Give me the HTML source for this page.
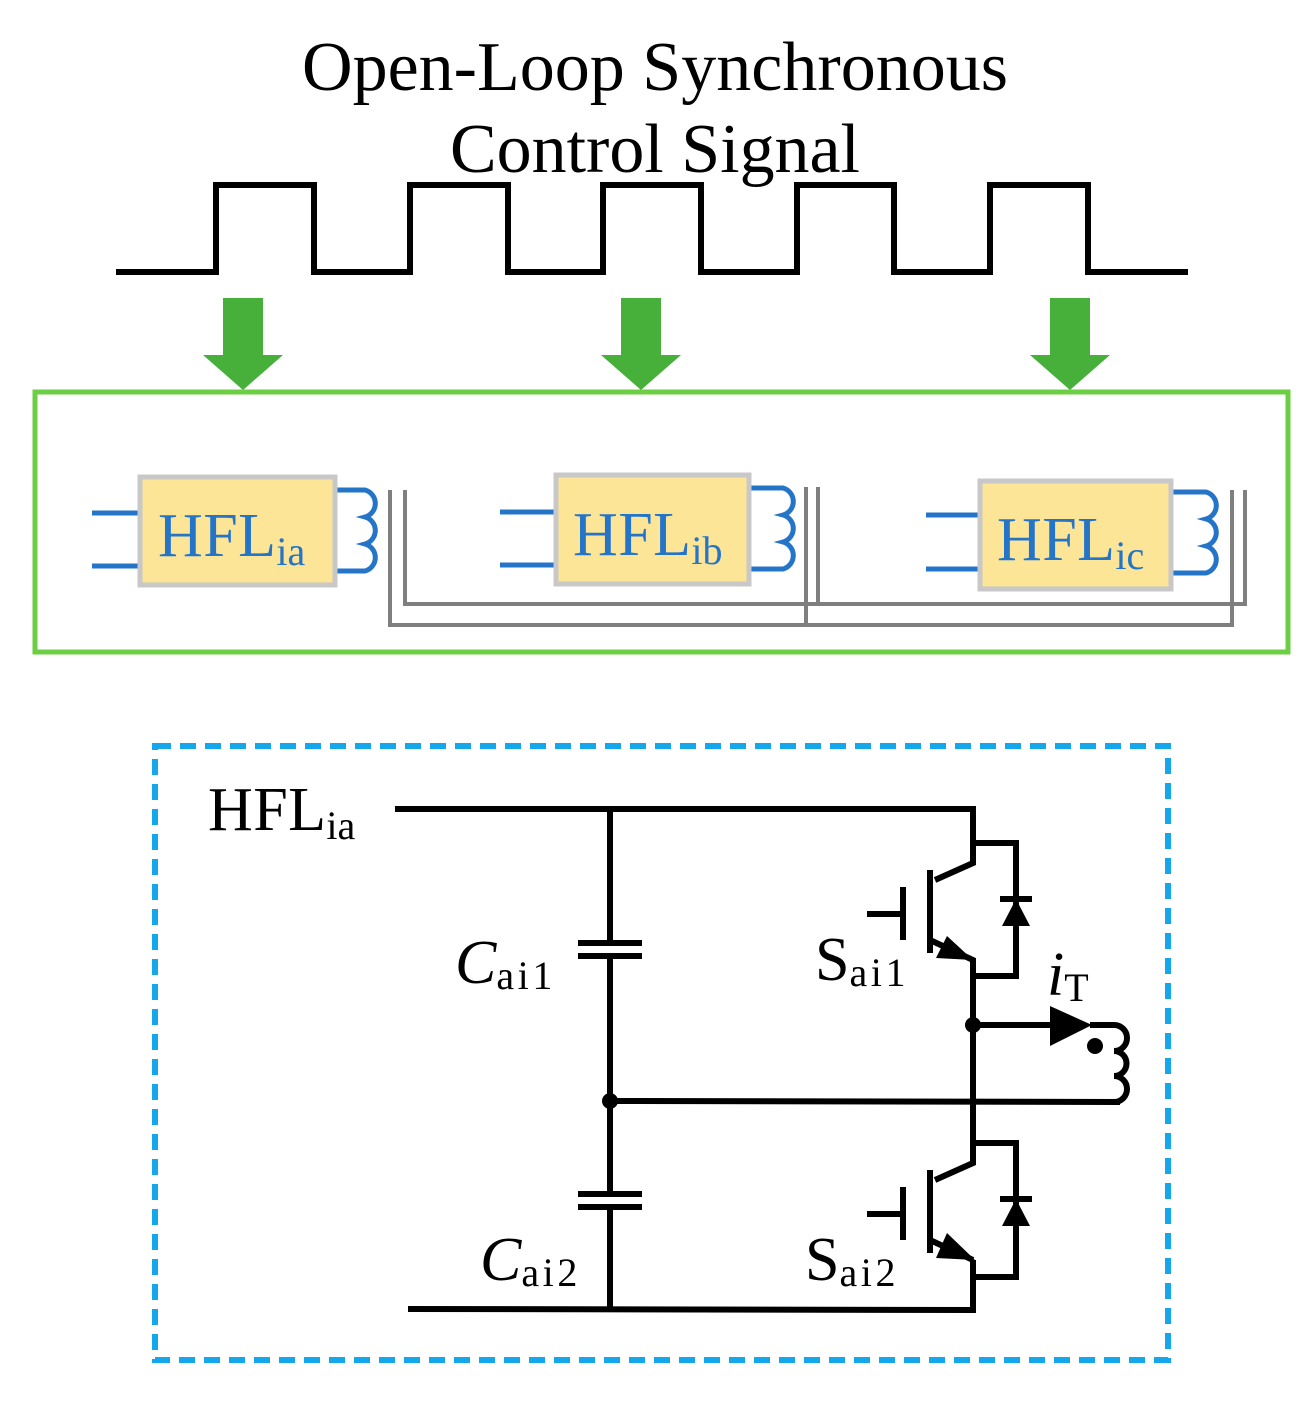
<!DOCTYPE html>
<html><head><meta charset="utf-8"><style>body{margin:0;background:#fff}svg{display:block}</style></head>
<body>
<svg width="1316" height="1403" viewBox="0 0 1316 1403" xmlns="http://www.w3.org/2000/svg" font-family="Liberation Serif, serif">
<text x="302" y="90" font-size="70" textLength="706" lengthAdjust="spacingAndGlyphs">Open-Loop Synchronous</text>
<text x="450" y="172" font-size="70" textLength="410" lengthAdjust="spacingAndGlyphs">Control Signal</text>
<polyline fill="none" stroke="#000" stroke-width="6" points="116,272 216,272 216,185 314,185 314,272 410,272 410,185 508,185 508,272 603,272 603,185 701,185 701,272 797,272 797,185 894,185 894,272 990,272 990,185 1088,185 1088,272 1188,272"/>
<g fill="#46b03a">
<polygon points="223,298 263,298 263,355 283,355 243,390 203,355 223,355"/>
<polygon points="621,298 661,298 661,355 681,355 641,390 601,355 621,355"/>
<polygon points="1050,298 1090,298 1090,355 1110,355 1070,390 1030,355 1050,355"/>
</g>
<rect x="35" y="392" width="1253" height="260" fill="none" stroke="#6ccf43" stroke-width="5"/>
<g stroke="#7f7f7f" stroke-width="4" fill="none">
<polyline points="390,490 390,625 1232,625 1232,490"/>
<polyline points="405,490 405,604 1245,604 1245,490"/>
<line x1="806" y1="487" x2="806" y2="625"/>
<line x1="818" y1="487" x2="818" y2="604"/>
</g>
<g stroke="#2474c8" stroke-width="5" fill="none">
<line x1="92" y1="513" x2="140" y2="513"/><line x1="92" y1="566" x2="140" y2="566"/>
<path d="M333,490 h32 a14,14 0 0 1 0,27 a14,14 0 0 1 0,27 a14,14 0 0 1 0,27 h-32"/>
<line x1="500" y1="512" x2="556" y2="512"/><line x1="500" y1="565" x2="556" y2="565"/>
<path d="M749,488 h34 a14,14 0 0 1 0,27 a14,14 0 0 1 0,27 a14,14 0 0 1 0,27 h-34"/>
<line x1="926" y1="515" x2="980" y2="515"/><line x1="926" y1="569" x2="980" y2="569"/>
<path d="M1172,492 h34 a14,14 0 0 1 0,27 a14,14 0 0 1 0,27 a14,14 0 0 1 0,27 h-34"/>
</g>
<g fill="#fde597" stroke="#c8c8c8" stroke-width="5">
<rect x="140" y="477" width="195" height="108"/>
<rect x="556" y="475" width="193" height="109"/>
<rect x="980" y="481" width="191" height="108"/>
</g>
<g fill="#2474c8" font-size="62">
<text x="158" y="556"><tspan textLength="118" lengthAdjust="spacing">HFL</tspan><tspan font-size="40" dy="9">ia</tspan></text>
<text x="573" y="555"><tspan textLength="118" lengthAdjust="spacing">HFL</tspan><tspan font-size="40" dy="9">ib</tspan></text>
<text x="997" y="560"><tspan textLength="118" lengthAdjust="spacing">HFL</tspan><tspan font-size="40" dy="9">ic</tspan></text>
</g>
<rect x="155" y="746" width="1013" height="614" fill="none" stroke="#14a7eb" stroke-width="6" stroke-dasharray="16,9"/>
<text x="208" y="830" font-size="62"><tspan textLength="118" lengthAdjust="spacing">HFL</tspan><tspan font-size="40" dy="9">ia</tspan></text>
<g stroke="#000" stroke-width="6" fill="none">
<polyline points="395,809 973,809 973,863 935,880"/>
<line x1="610" y1="809" x2="610" y2="943"/>
<line x1="610" y1="956" x2="610" y2="1194"/>
<line x1="610" y1="1207" x2="610" y2="1310"/>
<line x1="578" y1="943" x2="642" y2="943"/><line x1="578" y1="956" x2="642" y2="956"/>
<line x1="578" y1="1194" x2="642" y2="1194"/><line x1="578" y1="1207" x2="642" y2="1207"/>
<polyline points="408,1309 973,1310 973,1260"/>
<line x1="610" y1="1101" x2="1120" y2="1102"/>
<line x1="930" y1="870" x2="930" y2="953"/>
<line x1="903" y1="887" x2="903" y2="940"/>
<line x1="867" y1="914" x2="903" y2="914"/>
<polyline points="930,940 973,960 973,1163 935,1180"/>
<polyline points="973,843 1016,843 1016,976 973,976"/>
<line x1="1000" y1="899" x2="1032" y2="899"/>
<line x1="930" y1="1170" x2="930" y2="1253"/>
<line x1="903" y1="1187" x2="903" y2="1240"/>
<line x1="867" y1="1214" x2="903" y2="1214"/>
<polyline points="930,1240 973,1260"/>
<polyline points="973,1143 1016,1143 1016,1277 973,1277"/>
<line x1="1000" y1="1199" x2="1032" y2="1199"/>
<line x1="973" y1="1025" x2="1060" y2="1025"/>
<path d="M1090,1025 h24 a10,10 0 0 1 0,26 a10,10 0 0 1 0,25 a10,10 0 0 1 0,26 h-2"/>
</g>
<g fill="#000">
<polygon points="1016,899 1002,926 1030,926"/>
<polygon points="1016,1199 1002,1226 1030,1226"/>
<polygon points="973,960 947,936 936,958"/>
<polygon points="975,1260 947,1233 936,1258"/>
<polygon points="1092,1025 1050,1006 1050,1046"/>
<circle cx="610" cy="1101" r="8"/>
<circle cx="973" cy="1025" r="8"/>
<circle cx="1095" cy="1046" r="8"/>
</g>
<g font-size="62">
<text x="455" y="983"><tspan font-style="italic">C</tspan><tspan font-size="40" dy="6" textLength="56" lengthAdjust="spacing">ai1</tspan></text>
<text x="480" y="1280"><tspan font-style="italic">C</tspan><tspan font-size="40" dy="6" textLength="56" lengthAdjust="spacing">ai2</tspan></text>
<text x="815" y="980">S<tspan font-size="40" dy="6" textLength="56" lengthAdjust="spacing">ai1</tspan></text>
<text x="805" y="1280">S<tspan font-size="40" dy="6" textLength="56" lengthAdjust="spacing">ai2</tspan></text>
<text x="1047" y="995" font-style="italic">i<tspan font-style="normal" font-size="40" dy="6">T</tspan></text>
</g>
</svg>
</body></html>
